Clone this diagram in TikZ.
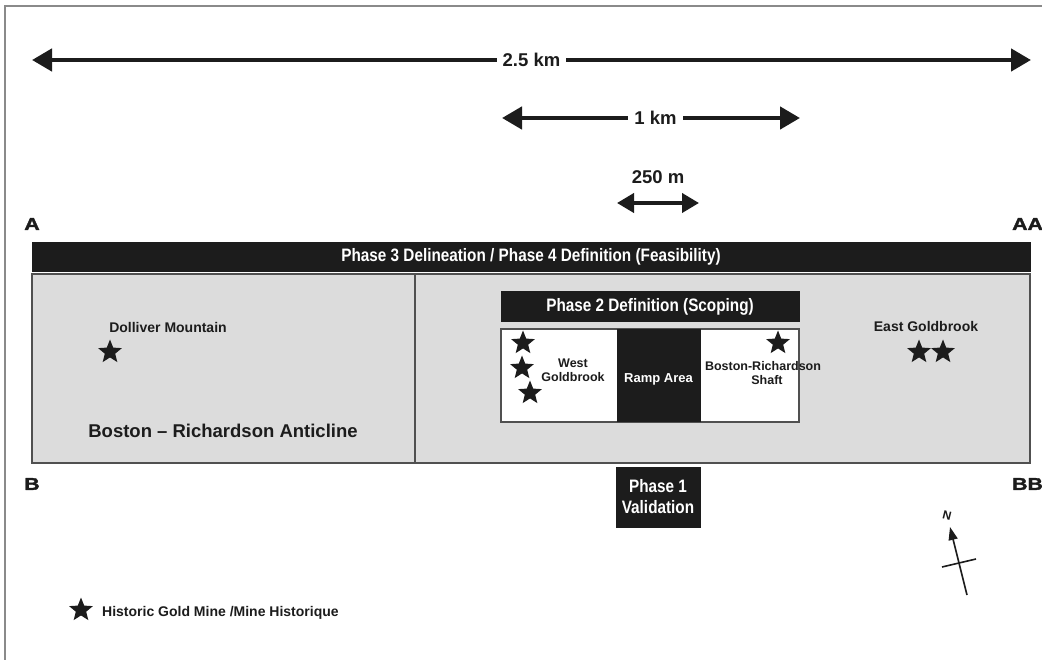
\documentclass[tikz,border=0pt]{standalone}
\usepackage{fontspec}
\setmainfont{Liberation Sans}
\newfontfamily\condfont[FakeStretch=0.85]{Liberation Sans}
\newfontfamily\widefont[FakeStretch=1.25,FakeBold=2]{Liberation Sans}
\usetikzlibrary{arrows.meta,shapes.geometric}
\definecolor{boxblack}{HTML}{1C1C1C}
\definecolor{boxgrey}{HTML}{DCDCDC}
\definecolor{edgegrey}{HTML}{505050}
\definecolor{framegrey}{HTML}{8A8A8A}
\begin{document}
\begin{tikzpicture}[x=1pt,y=-1pt,
  blackbar/.style={fill=boxblack, draw=boxblack, inner sep=0pt, text=white,
     font=\condfont\bfseries\fontsize{18}{19}\selectfont},
  greybox/.style={fill=boxgrey, draw=edgegrey, line width=1.2pt},
  whitebox/.style={fill=white, draw=edgegrey, line width=1.2pt},
  mine/.style={star, star points=5, star point ratio=2.3, fill=boxblack, draw=none,
     minimum size=25pt, inner sep=0pt},
  lbl/.style={font=\bfseries\fontsize{14}{15}\selectfont, text=boxblack, inner sep=0pt},
  smalllbl/.style={font=\bfseries\fontsize{12.5}{14}\selectfont, text=boxblack, inner sep=0pt, align=center},
  scalelbl/.style={font=\bfseries\fontsize{18.5}{20}\selectfont, text=boxblack, fill=white, inner sep=6pt},
  section/.style={font=\widefont\bfseries\fontsize{17}{18}\selectfont, text=boxblack, inner sep=0pt},
  bigarrow/.style={line width=4.5pt, draw=boxblack, {Triangle[length=20pt,width=22pt]}-{Triangle[length=20pt,width=22pt]}},
  smallarrow/.style={line width=4pt, draw=boxblack, {Triangle[length=17pt,width=19pt]}-{Triangle[length=17pt,width=19pt]}}
]
\useasboundingbox (0,0) rectangle (1042,660);
\fill[white] (0,0) rectangle (1042,660);
% frame
\draw[framegrey, line width=1.5pt] (5,660) -- (5,6) -- (1042,6);

% scale bars
\coordinate (s1l) at (32,60);
\coordinate (s1r) at (1031,60);
\draw[bigarrow] (s1l) -- (s1r) node[midway, scalelbl] (s1t) {2.5 km};
\coordinate (s2l) at (502,118);
\coordinate (s2r) at (800,118);
\draw[bigarrow] (s2l) -- (s2r) node[pos=0.515, scalelbl] (s2t) {1 km};
\node[scalelbl, fill=none] (s3t) at (658,177) {250 m};
\coordinate (s3l) at (617,203);
\coordinate (s3r) at (699,203);
\draw[smallarrow] (s3l) -- (s3r);

% section letters
\node[section] (A) at (32,224) {A};
\node[section, anchor=west] (AA) at (1012,224) {AA};
\node[section] (B) at (32,484) {B};
\node[section, anchor=west] (BB) at (1012,484) {BB};

% phase 3 bar
\node[blackbar, minimum width=998pt, minimum height=29pt] (p3) at (531,256.5)
  {Phase 3 Delineation / Phase 4 Definition (Feasibility)};

% grey areas
\node[greybox, minimum width=383pt, minimum height=189pt, inner sep=0pt] (left) at (223.5,368.5) {};
\node[greybox, minimum width=615pt, minimum height=189pt, inner sep=0pt] (right) at (722.5,368.5) {};

% left content
\node[lbl] (doll) at (168,327) {Dolliver Mountain};
\node[mine] (dollstar) at (110,352) {};
\node[font=\bfseries\fontsize{18.5}{20}\selectfont, text=boxblack, inner sep=0pt] (anti) at (223,431) {Boston – Richardson Anticline};

% phase 2
\node[blackbar, minimum width=298pt, minimum height=30pt] (p2) at (650,306.5) {Phase 2 Definition (Scoping)};
\node[whitebox, minimum width=298pt, minimum height=93pt, inner sep=0pt] (wb) at (650,375.5) {};
\node[fill=boxblack, draw=none, minimum width=84pt, minimum height=92pt, inner sep=0pt] (ramp) at (658.5,375.5) {};
\node[font=\bfseries\fontsize{13}{14}\selectfont, text=white, inner sep=0pt] (rampt) at (658.5,379) {Ramp Area};
\node[mine] (w1) at (523,343) {};
\node[mine] (w2) at (522,368) {};
\node[mine] (w3) at (530,393) {};
\node[smalllbl] (west) at (573,370.5) {West\\Goldbrook};
\node[mine] (shstar) at (778,343) {};
\node[smalllbl] (shaft) at (763,373.5) {Boston-Richardson\\\hspace*{8pt}Shaft};

% east
\node[lbl] (east) at (926,326) {East Goldbrook};
\node[mine] (e1) at (919,352) {};
\node[mine] (e2) at (943,352) {};

% phase 1
\node[blackbar, minimum width=84pt, minimum height=60pt, align=center,
  font=\condfont\bfseries\fontsize{18}{21}\selectfont] (p1) at (658,497) {Phase 1\\Validation};

% north arrow
\coordinate (nbot) at (967,595);
\coordinate (ntip) at (950,527);
\coordinate (cl) at (942,567);
\coordinate (cr) at (976,559);
\draw[line width=1.6pt, boxblack, -{Triangle[length=13pt,width=9pt]}] (nbot) -- (ntip);
\draw[line width=1.6pt, boxblack] (cl) -- (cr);
\node[font=\bfseries\fontsize{12}{13}\selectfont, text=boxblack, rotate=-14, inner sep=0pt] (N) at (947,516) {N};

% legend
\node[mine] (legstar) at (81,610) {};
\node[lbl, anchor=west] (legend) at (102,613) {Historic Gold Mine /Mine Historique};
\end{tikzpicture}
\end{document}
